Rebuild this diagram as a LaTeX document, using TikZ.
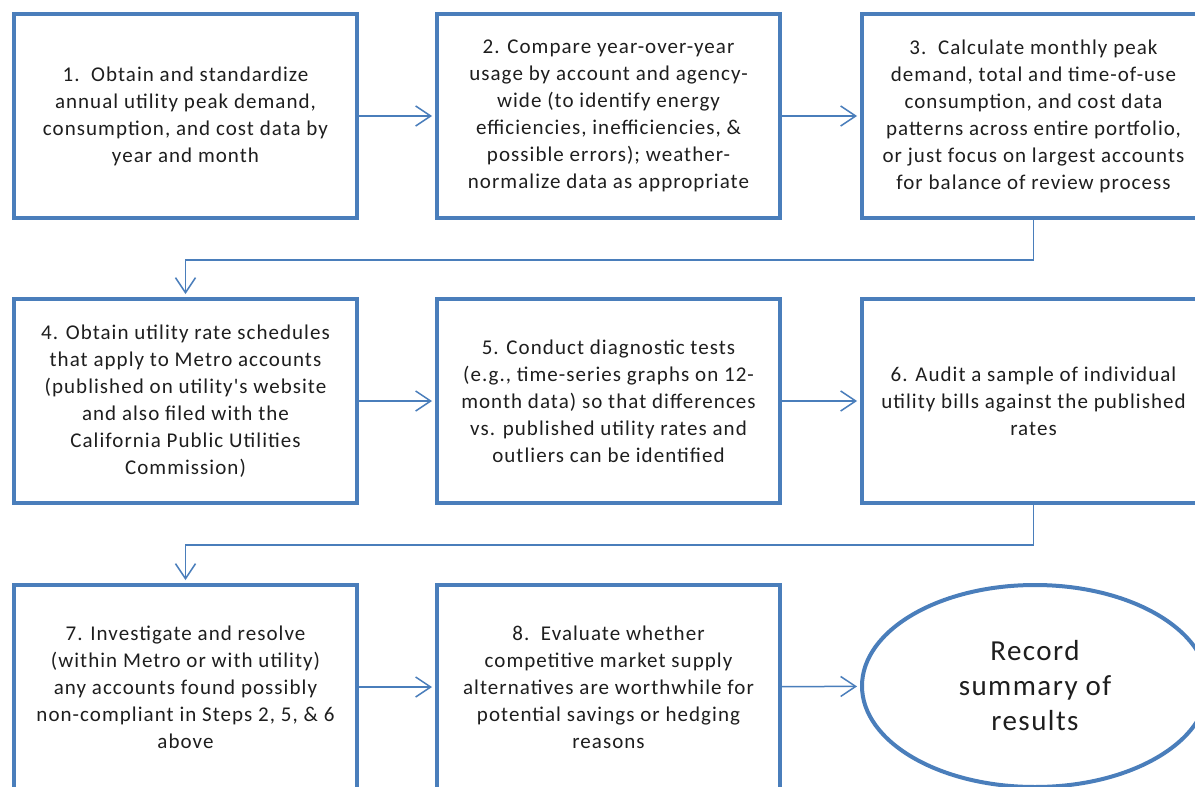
\documentclass[tikz,border=0pt]{standalone}
\usepackage{fontspec}
\setmainfont{Carlito}
\newfontfamily\boxfont[LetterSpace=5]{Carlito}
\usetikzlibrary{arrows.meta,shapes.geometric}
\definecolor{boxblue}{RGB}{74,126,187}
\definecolor{txt}{RGB}{30,30,30}
\tikzset{
  stepbox/.style={draw=boxblue, line width=4pt, fill=white, rectangle,
    minimum width=343pt, minimum height=204pt, align=center, text=txt,
    font=\boxfont\fontsize{21}{27}\selectfont, inner sep=0pt},
  endbox/.style={draw=boxblue, line width=4pt, fill=white, ellipse,
    minimum width=346pt, minimum height=202pt, align=center, text=txt,
    font=\boxfont\fontsize{29}{35}\selectfont, inner sep=0pt},
  conn/.style={draw=boxblue, line width=1.5pt,
    -{Straight Barb[length=15pt,width=20pt,line width=1.5pt]}, shorten >=3pt}
}
\begin{document}
\begin{tikzpicture}[x=1pt,y=-1pt]
\useasboundingbox (0,0) rectangle (1195,787);
\clip (0,0) rectangle (1195,787);
\fill[white] (0,0) rectangle (1195,787);

\node[stepbox] (b1) at (185.5,116) {1.\ \ Obtain and standardize\\annual utility peak demand,\\consumption, and cost data by\\year and month};
\node[stepbox] (b2) at (608.5,116) {2. Compare year-over-year\\usage by account and agency-\\wide (to identify energy\\efficiencies, inefficiencies, \&\\possible errors); weather-\\normalize data as appropriate};
\node[stepbox] (b3) at (1033.5,116) {3.\ \ Calculate monthly peak\\demand, total and time-of-use\\consumption, and cost data\\patterns across entire portfolio,\\or just focus on largest accounts\\for balance of review process};

\node[stepbox] (b4) at (185.5,401) {4. Obtain utility rate schedules\\that apply to Metro accounts\\(published on utility's website\\and also filed with the\\California Public Utilities\\Commission)};
\node[stepbox] (b5) at (608.5,401) {5. Conduct diagnostic tests\\(e.g., time-series graphs on 12-\\month data) so that differences\\vs. published utility rates and\\outliers can be identified};
\node[stepbox] (b6) at (1033.5,401) {6. Audit a sample of individual\\utility bills against the published\\rates};

\node[stepbox] (b7) at (185.5,687) {7. Investigate and resolve\\(within Metro or with utility)\\any accounts found possibly\\non-compliant in Steps 2, 5, \& 6\\above};
\node[stepbox] (b8) at (608.5,687) {8.\ \ Evaluate whether\\competitive market supply\\alternatives are worthwhile for\\potential savings or hedging\\reasons};
\node[endbox] (e) at (1035,686) {Record\\summary of\\results};

\coordinate (j1) at (1033.5,260);
\coordinate (j2) at (1033.5,545);

\draw[conn] (b1) -- (b2);
\draw[conn] (b2) -- (b3);
\draw[conn] (b3.south) -- (j1) -| (b4.north);
\draw[conn] (b4) -- (b5);
\draw[conn] (b5) -- (b6);
\draw[conn] (b6.south) -- (j2) -| (b7.north);
\draw[conn] (b7) -- (b8);
\draw[conn] (b8) -- (e);
\end{tikzpicture}
\end{document}
